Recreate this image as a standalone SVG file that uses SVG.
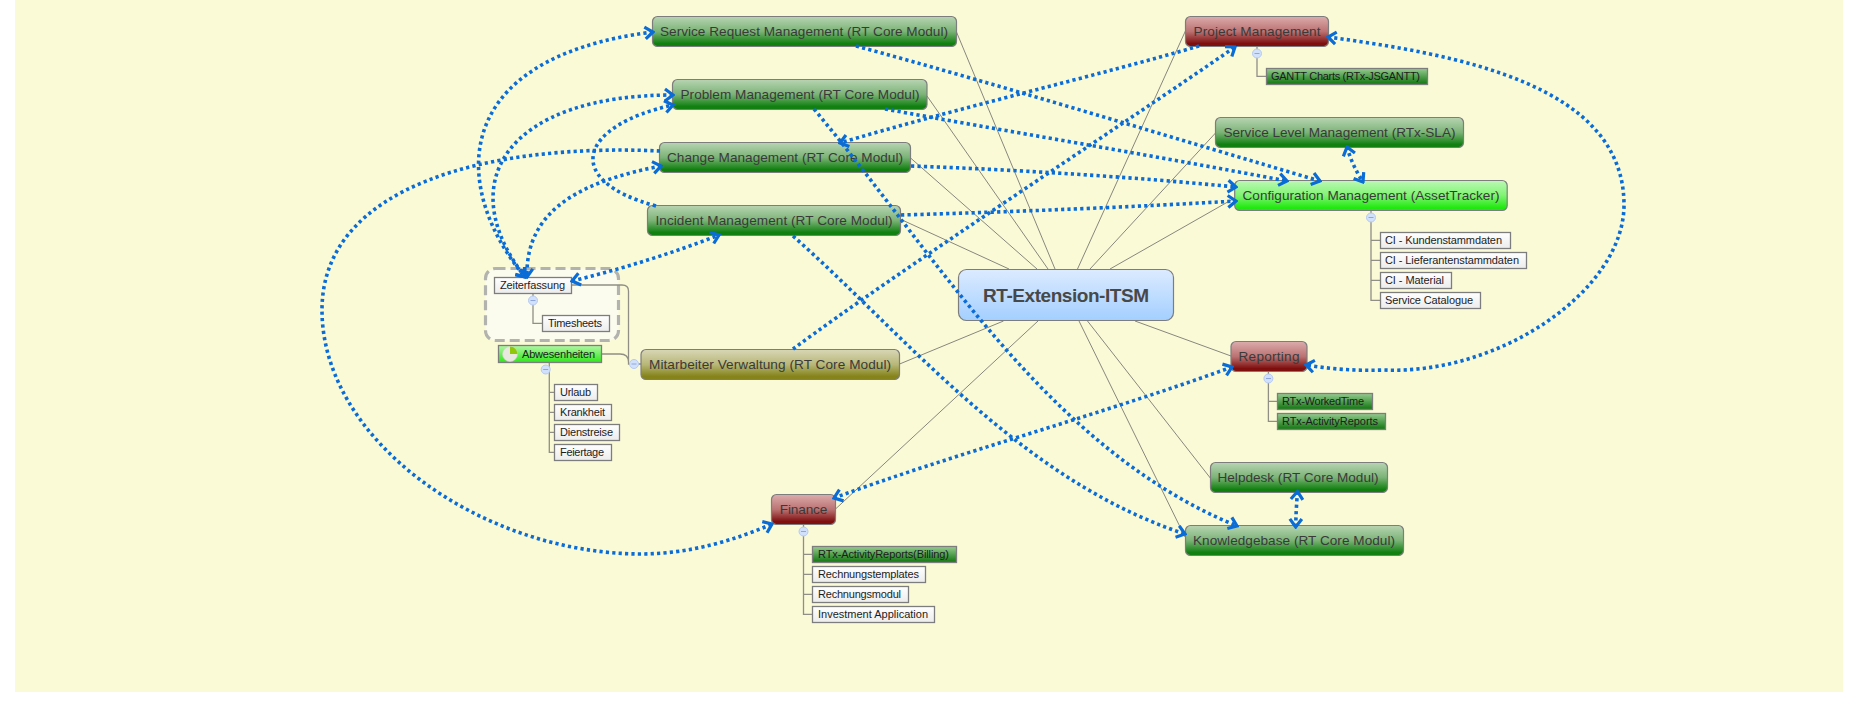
<svg xmlns="http://www.w3.org/2000/svg" width="1858" height="707" viewBox="0 0 1858 707">
<defs>
<style>
text{font-family:"Liberation Sans",Arial,sans-serif;text-anchor:middle}
.n text{font-size:13.6px;fill:#3a3a3a}
.s text{font-size:11px;fill:#1c1c1c;text-anchor:start}
.n rect{stroke:#7d7d7d;stroke-width:1.2}
.s rect{stroke:#7d7d7d;stroke-width:1.3}
.w rect{fill:url(#gw)}
.sg rect{fill:url(#gsg)}
.g rect{fill:url(#gg)}
.r rect{fill:url(#gr)}
.l{fill:none;stroke:#87877d;stroke-width:1}
.t{fill:none;stroke:#8f8f85;stroke-width:1.3}
.d{fill:none;stroke:#0a6cd6;stroke-width:3.6;stroke-dasharray:3.2 3.2}
.e{marker-end:url(#a)}
.b{marker-end:url(#a);marker-start:url(#a)}
.tg circle{fill:#d2e1fb;stroke:#b6caf0;stroke-width:1}
.tg path{stroke:#8ea8dc;stroke-width:1;fill:none}
</style>
<marker id="a" markerUnits="userSpaceOnUse" viewBox="-11 -8 13 16" markerWidth="13" markerHeight="16" refX="0" refY="0" orient="auto-start-reverse"><path d="M-8,-6 L0,0 L-8,6" fill="none" stroke="#0a6cd6" stroke-width="3.2"/></marker>
<linearGradient id="gg" x1="0" y1="0" x2="0" y2="1"><stop offset="0" stop-color="#b8d4b2"/><stop offset=".5" stop-color="#7bb376"/><stop offset=".9" stop-color="#118010"/><stop offset="1" stop-color="#127f12"/></linearGradient>
<linearGradient id="gr" x1="0" y1="0" x2="0" y2="1"><stop offset="0" stop-color="#dbacac"/><stop offset=".5" stop-color="#bb7272"/><stop offset=".9" stop-color="#7f0f0f"/><stop offset="1" stop-color="#7f1010"/></linearGradient>
<linearGradient id="gb" x1="0" y1="0" x2="0" y2="1"><stop offset="0" stop-color="#dcebff"/><stop offset="1" stop-color="#a3cfff"/></linearGradient>
<linearGradient id="gc" x1="0" y1="0" x2="0" y2="1"><stop offset="0" stop-color="#bdf8b6"/><stop offset=".5" stop-color="#7ff472"/><stop offset=".92" stop-color="#1fe90e"/><stop offset="1" stop-color="#20e810"/></linearGradient>
<linearGradient id="go" x1="0" y1="0" x2="0" y2="1"><stop offset="0" stop-color="#d8d7b6"/><stop offset=".5" stop-color="#b8b778"/><stop offset=".9" stop-color="#85831a"/><stop offset="1" stop-color="#86841c"/></linearGradient>
<linearGradient id="gw" x1="0" y1="0" x2="0" y2="1"><stop offset="0" stop-color="#ffffff"/><stop offset="1" stop-color="#ececec"/></linearGradient>
<linearGradient id="gsg" x1="0" y1="0" x2="0" y2="1"><stop offset="0" stop-color="#96cb90"/><stop offset=".9" stop-color="#1c7e1a"/><stop offset="1" stop-color="#1c7e1a"/></linearGradient>
<linearGradient id="ga" x1="0" y1="0" x2="0" y2="1"><stop offset="0" stop-color="#b0f8a4"/><stop offset="1" stop-color="#2fe61a"/></linearGradient>
</defs>
<rect width="1858" height="707" fill="#ffffff"/>
<rect x="15" y="0" width="1828" height="692" fill="#fbfad7"/>
<g id="group-frame"><rect x="485.5" y="268.5" width="133" height="72" rx="10" fill="#fcfcee" stroke="#b2b2ae" stroke-width="3.2" stroke-dasharray="10 5"/></g>
<g id="tree-lines">
<path class="l" d="M956.5,32L1055,269M927,96L1048,269M910.6,158L1037,269M900,219L1009,269M1185.4,31L1077.5,269M1215.5,133L1090,269M1234.7,198L1110,269M899.6,364L1003.5,321M835.5,509L1038,321M1185,537L1079,321M1210.3,478L1087.5,321M1231,356L1135,321"/>
<path class="t" d="M1257,46V76.3H1266.5M1371,211V300.3H1380.3M1371,240.3H1380.3M1371,260.3H1380.3M1371,280.3H1380.3M1268.4,371V421.3H1277.5M1268.4,401.3H1277.5M803.5,524V614.3H812.6M803.5,554.3H812.6M803.5,574.3H812.6M803.5,594.3H812.6M533,293V323.3H542.3M549.3,362V452.3H554.3M549.3,392.3H554.3M549.3,412.3H554.3M549.3,432.3H554.3M571,285H622Q628.5,285 628.5,291V364H641M602,354H620Q628.5,354 628.5,362"/>
</g>
<g id="root" class="n"><rect x="958.5" y="269.5" width="215" height="51" rx="8" fill="url(#gb)"/><text x="1066" y="302" textLength="166" style="font-size:19px;font-weight:bold;fill:#484848">RT-Extension-ITSM</text></g>
<g id="service-request" class="n g"><rect x="652.5" y="16.5" width="304" height="30" rx="5"/><text x="804" y="36" textLength="288">Service Request Management (RT Core Modul)</text></g>
<g id="problem" class="n g"><rect x="672.5" y="79.5" width="254.5" height="30" rx="5"/><text x="800" y="99" textLength="239">Problem Management (RT Core Modul)</text></g>
<g id="change" class="n g"><rect x="659.5" y="142.5" width="251" height="30" rx="5"/><text x="785" y="162" textLength="236">Change Management (RT Core Modul)</text></g>
<g id="incident" class="n g"><rect x="647.5" y="205.5" width="253" height="30" rx="5"/><text x="774" y="225" textLength="237">Incident Management (RT Core Modul)</text></g>
<g id="mitarbeiter" class="n"><rect x="641" y="349.5" width="258.5" height="30" rx="5" fill="url(#go)"/><text x="770" y="369" textLength="242">Mitarbeiter Verwaltung (RT Core Modul)</text></g>
<g id="project" class="n r"><rect x="1185.5" y="16.5" width="143" height="30" rx="5"/><text x="1257" y="36" textLength="127">Project Management</text></g>
<g id="service-level" class="n g"><rect x="1215.5" y="117.5" width="248" height="30" rx="5"/><text x="1339.5" y="137" textLength="232">Service Level Management (RTx-SLA)</text></g>
<g id="configuration" class="n"><rect x="1234.7" y="180.5" width="272.5" height="30" rx="5" fill="url(#gc)"/><text x="1371" y="200" textLength="257">Configuration Management (AssetTracker)</text></g>
<g id="reporting" class="n r"><rect x="1231" y="341.5" width="76" height="30" rx="5"/><text x="1269" y="361" textLength="61">Reporting</text></g>
<g id="helpdesk" class="n g"><rect x="1210.5" y="462.5" width="177" height="30" rx="5"/><text x="1298" y="482" textLength="161">Helpdesk (RT Core Modul)</text></g>
<g id="knowledgebase" class="n g"><rect x="1185.5" y="525.5" width="218" height="30" rx="5"/><text x="1294" y="545" textLength="202">Knowledgebase (RT Core Modul)</text></g>
<g id="finance" class="n r"><rect x="771.5" y="494.5" width="64" height="30" rx="5"/><text x="803.5" y="514" textLength="47.5">Finance</text></g>
<g id="gantt" class="s sg"><rect x="1266.5" y="68.5" width="161" height="16"/><text x="1271" y="80" textLength="149">GANTT Charts (RTx-JSGANTT)</text></g>
<g id="ci-kunden" class="s w"><rect x="1380.5" y="232.5" width="130" height="16"/><text x="1385" y="244" textLength="117">CI - Kundenstammdaten</text></g>
<g id="ci-liefer" class="s w"><rect x="1380.5" y="252.5" width="146" height="16"/><text x="1385" y="264" textLength="134">CI - Lieferantenstammdaten</text></g>
<g id="ci-material" class="s w"><rect x="1380.5" y="272.5" width="71" height="16"/><text x="1385" y="284" textLength="59">CI - Material</text></g>
<g id="service-catalogue" class="s w"><rect x="1380.5" y="292.5" width="100" height="16"/><text x="1385" y="304" textLength="88">Service Catalogue</text></g>
<g id="worked-time" class="s sg"><rect x="1277.5" y="393.5" width="95" height="16"/><text x="1282" y="405" textLength="82">RTx-WorkedTime</text></g>
<g id="activity-reports" class="s sg"><rect x="1277.5" y="413.5" width="108" height="16"/><text x="1282" y="425" textLength="96">RTx-ActivityReports</text></g>
<g id="billing" class="s sg"><rect x="812.5" y="546.5" width="144" height="16"/><text x="818" y="558" textLength="131">RTx-ActivityReports(Billing)</text></g>
<g id="templates" class="s w"><rect x="812.5" y="566.5" width="113" height="16"/><text x="818" y="578" textLength="101">Rechnungstemplates</text></g>
<g id="modul" class="s w"><rect x="812.5" y="586.5" width="96" height="16"/><text x="818" y="598" textLength="83">Rechnungsmodul</text></g>
<g id="investment" class="s w"><rect x="812.5" y="606.5" width="122" height="16"/><text x="818" y="618" textLength="110">Investment Application</text></g>
<g id="zeiterfassung" class="s w"><rect x="494.5" y="277.5" width="77" height="16"/><text x="500" y="289" textLength="65">Zeiterfassung</text></g>
<g id="timesheets" class="s w"><rect x="542.5" y="315.5" width="67" height="16"/><text x="548" y="327" textLength="54">Timesheets</text></g>
<g id="abwesenheiten" class="s"><rect x="498.5" y="345.5" width="103" height="17" fill="url(#ga)"/><circle cx="510" cy="354" r="7.5" fill="#e8e8e0" stroke="#cfcfc4" stroke-width=".6"/><path d="M510,354V346.5A7.5,7.5 0 0 1 517.5,354Z" fill="#8fc80a"/><text x="522" y="357.5" textLength="73">Abwesenheiten</text></g>
<g id="urlaub" class="s w"><rect x="554.5" y="384.5" width="43" height="16"/><text x="560" y="396" textLength="31">Urlaub</text></g>
<g id="krankheit" class="s w"><rect x="554.5" y="404.5" width="57" height="16"/><text x="560" y="416" textLength="45">Krankheit</text></g>
<g id="dienstreise" class="s w"><rect x="554.5" y="424.5" width="65" height="16"/><text x="560" y="436" textLength="53">Dienstreise</text></g>
<g id="feiertage" class="s w"><rect x="554.5" y="444.5" width="57" height="16"/><text x="560" y="456" textLength="44">Feiertage</text></g>
<g id="toggles" class="tg">
<circle cx="1257" cy="53.5" r="4.5"/><path d="M1254.5,53.5h5"/>
<circle cx="1371" cy="217.5" r="4.5"/><path d="M1368.5,217.5h5"/>
<circle cx="1268.4" cy="378.5" r="4.5"/><path d="M1266,378.5h5"/>
<circle cx="803.5" cy="531.5" r="4.5"/><path d="M801,531.5h5"/>
<circle cx="533" cy="300.5" r="4.5"/><path d="M530.5,300.5h5"/>
<circle cx="545.7" cy="369.5" r="4.5"/><path d="M543.2,369.5h5"/>
<circle cx="634" cy="364" r="4.5"/><path d="M631.5,364h5"/>
</g>
<g id="connectors">
<path class="d b" d="M653,32C445,58 452,190 525,277"/>
<path class="d b" d="M673,95C510,95 450,180 525,277"/>
<path class="d b" d="M661,166C590,180 525,205 527,277"/>
<path class="d e" d="M660,151C490,143 322,185 322,310C322,440 480,553 640,554C690,554 735,540 772,524"/>
<path class="d e" d="M656,206C560,180 580,125 673,105"/>
<path class="d b" d="M572,281Q650,262 719,235"/>
<path class="d e" d="M793,349C900,270 1100,140 1235,47"/>
<path class="d e" d="M1199,46C1100,75 950,110 840,143"/>
<path class="d e" d="M856,46C1000,85 1180,140 1320,181"/>
<path class="d e" d="M885,109C1000,130 1150,155 1287,181"/>
<path class="d e" d="M911,166Q1080,172 1236,187"/>
<path class="d e" d="M901,215Q1080,210 1236,201"/>
<path class="d b" d="M1347,147Q1352,165 1363,182"/>
<path class="d b" d="M1328,37C1460,55 1624,85 1624,205C1624,290 1500,375 1384,370C1355,371 1330,369 1306,365"/>
<path class="d b" d="M1232,367C1100,415 950,455 834,498"/>
<path class="d b" d="M1297.5,491.5Q1296,510 1295.7,527"/>
<path class="d e" d="M814,109C940,260 1050,450 1237,526"/>
<path class="d e" d="M793,236C905,335 1020,480 1185,534"/>
</g>
</svg>
